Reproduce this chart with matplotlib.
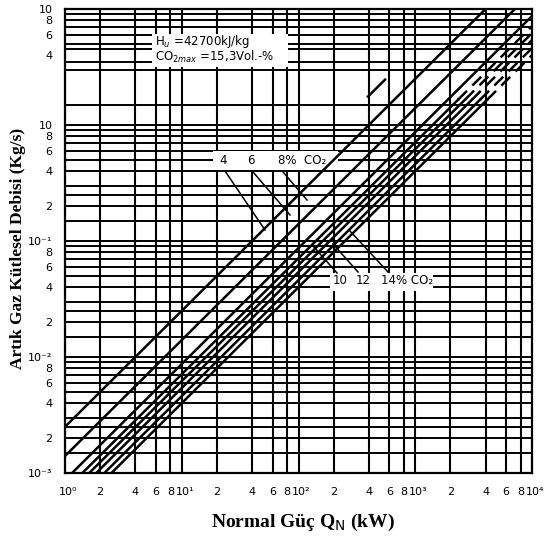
import numpy as np
import matplotlib
matplotlib.use("Agg")
import matplotlib.pyplot as plt
from matplotlib.patches import Rectangle
from matplotlib.transforms import ScaledTranslation

# ---------------- data ----------------
# Normal power range (kW) and exhaust-gas mass flow (kg/s) of each line at 1 kW
q_range = [1.0, 1.0e4]
line_m_at_1kw = [2.5e-3, 1.4e-3, 8.7e-4, 7.1e-4, 6.2e-4, 5.4e-4, 4.6e-4, 4.0e-4]
# power (kW) above which the line is printed dashed (None = solid all the way)
line_dash_from_q = [None, None, None, 2330, 2680, 3060, 3600, 4130]
# short isolated dash in the upper part
extra_dash_q = [394, 551]
extra_dash_m = [1.76, 2.46]

# grid mantissas
x_grid_mant = [1, 2, 4, 6, 8]
y_grid_mant = [1, 1.5, 2, 2.5, 3, 4, 5, 6, 7, 8, 9]
y_grid_mant_top = [1, 1.5, 3, 3.5, 4.5, 5, 6, 7, 8, 9]

# tick labels
x_tick_vals = [1, 2, 4, 6, 8, 10, 20, 40, 60, 80, 100, 200, 400, 600, 800,
               1000, 2000, 4000, 6000, 8000, 10000]
x_tick_labels = ["10⁰", "2", "4", "6", "8", "10¹", "2", "4", "6", "8",
                 "10²", "2", "4", "6", "8", "10³", "2", "4", "6", "8", "10⁴"]
y_tick_vals = [1e-3, 2e-3, 4e-3, 6e-3, 8e-3, 1e-2, 2e-2, 4e-2, 6e-2, 8e-2,
               1e-1, 2e-1, 4e-1, 6e-1, 8e-1, 1.0, 4.0, 6.0, 8.0, 10.0]
y_tick_labels = ["10⁻³", "2", "4", "6", "8", "10⁻²", "2", "4", "6", "8",
                 "10⁻¹", "2", "4", "6", "8", "10", "4", "6", "8", "10"]

upper_labels = ["4", "6", "8%  CO₂"]
lower_labels = ["10", "12", "14% CO₂"]

# ---------------- figure ----------------
W, H = 555, 541
fig = plt.figure(figsize=(W / 100, H / 100), dpi=100)
L, R, B, T = 65, 532, 473, 9
ax = fig.add_axes([L / W, (H - B) / H, (R - L) / W, (B - T) / H])
ax.set_xscale("log")
ax.set_yscale("log")
ax.set_xlim(q_range[0], q_range[1])
ax.set_ylim(1e-3, 10)


def fx(px):
    return (px - L) / (R - L)


def fy(py):
    return (B - py) / (B - T)


# grid
for d in range(0, 4):
    for mnt in x_grid_mant:
        ax.axvline(mnt * 10 ** d, color="black", lw=1.5, zorder=1)
for d in range(-3, 1):
    mants = y_grid_mant_top if d == 0 else y_grid_mant
    for mnt in mants:
        ax.axhline(mnt * 10 ** d, color="black", lw=1.4, zorder=1)

# white label areas
for (x0, y0, x1, y1) in [(152, 34, 288, 67), (213, 151, 338, 170), (330, 273, 433, 291)]:
    ax.add_patch(Rectangle((fx(x0), fy(y1)), fx(x1) - fx(x0), fy(y0) - fy(y1),
                           transform=ax.transAxes, facecolor="white",
                           edgecolor="none", zorder=2))

# lines (m proportional to Q)
q_all = np.array(q_range)
for m1, qd in zip(line_m_at_1kw, line_dash_from_q):
    if qd is None:
        ax.plot(q_all, m1 * q_all, color="black", lw=1.8, zorder=3)
    else:
        qs = np.array([q_range[0], qd])
        ax.plot(qs, m1 * qs, color="black", lw=1.8, zorder=3)
        qd2 = np.array([qd, q_range[1]])
        ax.plot(qd2, m1 * qd2, color="black", lw=1.8, zorder=3,
                linestyle=(0, (5, 3)))
ax.plot(extra_dash_q, extra_dash_m, color="black", lw=1.8, zorder=3)

# text box
tk = dict(fontsize=8.5, color="black", zorder=5, transform=ax.transAxes,
          family="DejaVu Sans", va="center", ha="left")
ax.text(fx(155), fy(41), "H$_u$ =42700kJ/kg", **tk)
ax.text(fx(155), fy(57), "CO$_{2max}$ =15,3Vol.-%", **tk)

# CO2 labels
for lab, px in zip(upper_labels, [219, 247, 278]):
    ax.text(fx(px), fy(161), lab, **tk)
for lab, px in zip(lower_labels, [333, 356, 381]):
    ax.text(fx(px), fy(281), lab, **tk)

# leader lines
leaders = [((225, 171), (265, 230)), ((253, 172), (290, 215)), ((283, 172), (307, 200)),
           ((337, 273), (313, 246)), ((358, 272), (333, 244)), ((388, 272), (350, 231))]
for (a, b) in leaders:
    ax.plot([fx(a[0]), fx(b[0])], [fy(a[1]), fy(b[1])], color="black", lw=1.1,
            transform=ax.transAxes, zorder=4)

# ticks
ax.xaxis.set_minor_locator(matplotlib.ticker.NullLocator())
ax.yaxis.set_minor_locator(matplotlib.ticker.NullLocator())
ax.set_xticks(x_tick_vals)
ax.set_xticklabels(x_tick_labels)
ax.set_yticks(y_tick_vals)
ax.set_yticklabels(y_tick_labels)
ax.tick_params(axis="both", length=0, labelsize=8, colors="black")
ax.tick_params(axis="x", pad=10)
ax.tick_params(axis="y", pad=9)
shift = ScaledTranslation(3 / 100, 0, fig.dpi_scale_trans)
for lbl in ax.get_xticklabels():
    if lbl.get_text().startswith("10"):
        lbl.set_transform(lbl.get_transform() + shift)
for s in ax.spines.values():
    s.set_linewidth(1.6)
    s.set_color("black")

# axis titles
fig.text(303 / W, 1 - 522 / H, r"Normal Güç Q$_{\mathrm{N}}$ (kW)", ha="center",
         va="center", fontsize=14, family="Liberation Serif", weight="bold")
fig.text(18 / W, 1 - 248 / H, "Artık Gaz Kütlesel Debisi (Kg/s)", ha="center",
         va="center", rotation=90, fontsize=12.5, family="Liberation Serif",
         weight="bold")

fig.savefig("out.png", dpi=100)
